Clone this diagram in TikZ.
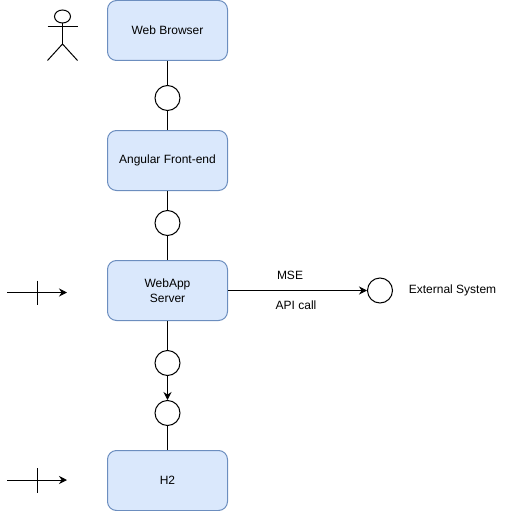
\documentclass[tikz,border=0pt]{standalone}
\usepackage{fontspec}
\setmainfont{Liberation Sans}
\usetikzlibrary{arrows.meta, shapes.geometric, positioning}

\definecolor{boxfill}{HTML}{DAE8FC}
\definecolor{boxline}{HTML}{6C8EBF}

\tikzset{
    box/.style={draw=boxline, fill=boxfill, rounded corners=9pt, minimum width=120pt,
        minimum height=60pt, inner sep=0pt, align=center},
    port/.style={draw, circle, minimum size=25pt, inner sep=0pt},
    lbl/.style={inner sep=0pt, align=center}
}

\begin{document}
\begin{tikzpicture}[x=1pt, y=-1pt, line width=1pt, >={Stealth[length=8pt, width=8pt]},
    font=\fontsize{12}{15}\selectfont]
    \useasboundingbox (0,0) rectangle (508,511);

    % Các khối chính
    \node[box] (browser) at (167.5,30.5) {Web Browser};
    \node[box] (angular) at (167.5,160.5) {Angular Front-end};
    \node[box] (webapp) at (167.5,290.5) {WebApp\\Server};
    \node[box] (htwo) at (167.5,480.5) {H2};

    % Các vòng tròn
    \node[port] (portA) at (167.5,98) {};
    \node[port] (portB) at (167.5,223) {};
    \node[port] (portC) at (167.5,363) {};
    \node[port] (portD) at (167.5,413) {};
    \node[port] (portE) at (380,290.5) {};

    % Nối các khối
    \draw (browser) -- (portA);
    \draw (portA) -- (angular);
    \draw (angular) -- (portB);
    \draw (portB) -- (webapp);
    \draw (webapp) -- (portC);
    \draw[->] (portC) -- (portD);
    \draw (portD) -- (htwo);
    \draw[->] (webapp) -- (portE);

    % Nhãn
    \node[lbl] (mse) at (290,275) {MSE};
    \node[lbl] (api) at (296,305) {API call};
    \node[lbl] (ext) at (452.5,290.5) {External System};

    % Mũi tên bên trái
    \coordinate (inA) at (7,292.5);
    \coordinate (outA) at (67,292.5);
    \coordinate (inB) at (7,480);
    \coordinate (outB) at (67,480);
    \draw[->] (inA) -- (outA);
    \draw[->] (inB) -- (outB);
    \draw (37.5,280.5) -- (37.5,305);
    \draw (37.5,468) -- (37.5,492.5);

    % Người dùng
    \draw (62.5,16.5) ellipse (8 and 6.5);
    \draw (62.5,23) -- (62.5,44);
    \draw (47.5,27) -- (77.5,27);
    \draw (47.5,60.5) -- (62.5,44) -- (77.5,60.5);
\end{tikzpicture}
\end{document}
